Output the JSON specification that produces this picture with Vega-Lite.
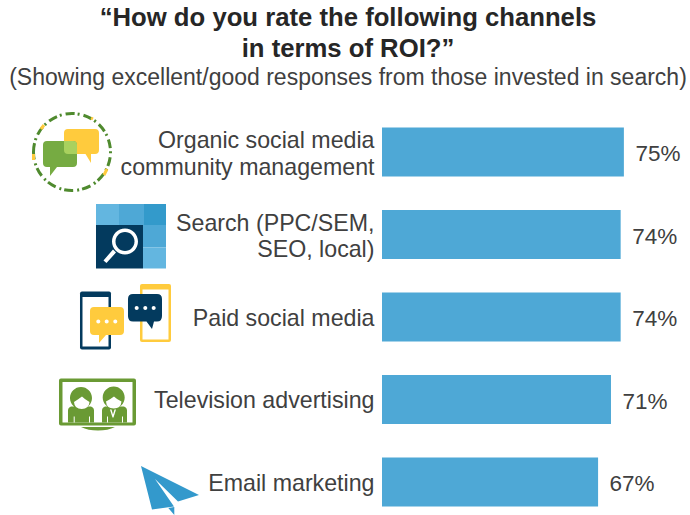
{
  "$schema": "https://vega.github.io/schema/vega-lite/v6.json",
  "width": 308,
  "height": 404.25,
  "padding": {"left": 382, "top": 110.75, "right": 0, "bottom": 0},
  "autosize": {"type": "none"},
  "background": "white",
  "view": {"stroke": null},
  "font": "Liberation Sans",
  "title": {
    "text": ["“How do you rate the following channels", "in terms of ROI?”"],
    "subtitle": "(Showing excellent/good responses from those invested in search)",
    "anchor": "middle",
    "frame": "group",
    "dx": -188,
    "offset": 17,
    "font": "Liberation Sans",
    "fontSize": 25.7,
    "fontWeight": "bold",
    "lineHeight": 31,
    "color": "#262626",
    "subtitleFont": "Liberation Sans",
    "subtitleFontSize": 23,
    "subtitleFontWeight": "normal",
    "subtitleColor": "#404040",
    "subtitlePadding": 4
  },
  "datasets": {
    "rates": [
      {"channel": "Organic social media community management", "share": 0.75},
      {"channel": "Search (PPC/SEM, SEO, local)", "share": 0.74},
      {"channel": "Paid social media", "share": 0.74},
      {"channel": "Television advertising", "share": 0.71},
      {"channel": "Email marketing", "share": 0.67}
    ],
    "iconParts": [
      {"channel": "Organic social media community management", "part": "bubbleYellow"},
      {"channel": "Organic social media community management", "part": "bubbleGreen"},
      {"channel": "Organic social media community management", "part": "bubbleOverlap"},
      {"channel": "Search (PPC/SEM, SEO, local)", "part": "tileA"},
      {"channel": "Search (PPC/SEM, SEO, local)", "part": "tileB"},
      {"channel": "Search (PPC/SEM, SEO, local)", "part": "tileC"},
      {"channel": "Search (PPC/SEM, SEO, local)", "part": "tileD"},
      {"channel": "Search (PPC/SEM, SEO, local)", "part": "tileE"},
      {"channel": "Search (PPC/SEM, SEO, local)", "part": "tileNavy"},
      {"channel": "Search (PPC/SEM, SEO, local)", "part": "lensWhite"},
      {"channel": "Search (PPC/SEM, SEO, local)", "part": "lensNavy"},
      {"channel": "Paid social media", "part": "phoneNavy"},
      {"channel": "Paid social media", "part": "phoneYellow"},
      {"channel": "Paid social media", "part": "phoneNavyScreen"},
      {"channel": "Paid social media", "part": "phoneYellowScreen"},
      {"channel": "Paid social media", "part": "chatYellow"},
      {"channel": "Paid social media", "part": "chatNavy"},
      {"channel": "Paid social media", "part": "chatDots"},
      {"channel": "Television advertising", "part": "tvFrame"},
      {"channel": "Television advertising", "part": "tvScreen"},
      {"channel": "Television advertising", "part": "tvPeople"},
      {"channel": "Television advertising", "part": "tvDetails"},
      {"channel": "Email marketing", "part": "plane"}
    ]
  },
  "resolve": {"scale": {"x": "shared", "y": "shared"}},
  "encoding": {
    "y": {
      "field": "channel",
      "type": "nominal",
      "scale": {
        "domain": [
          "Organic social media community management",
          "Search (PPC/SEM, SEO, local)",
          "Paid social media",
          "Television advertising",
          "Email marketing"
        ],
        "range": [0, 412.5],
        "paddingInner": 0.406,
        "paddingOuter": 0.203
      },
      "axis": {
        "title": null,
        "domain": false,
        "ticks": false,
        "labelPadding": 8,
        "labelFont": "Liberation Sans",
        "labelFontSize": 23.2,
        "labelColor": "#404040",
        "labelLimit": 0,
        "labelLineHeight": 26.5,
        "labelOffset": {
          "condition": {
            "test": "indexof(datum.label + '', 'management') >= 0 || indexof(datum.label + '', 'local') >= 0",
            "value": -11
          },
          "value": 1.5
        },
        "labelExpr": "datum.label == 'Organic social media community management' ? ['Organic social media', 'community management'] : datum.label == 'Search (PPC/SEM, SEO, local)' ? ['Search (PPC/SEM,', 'SEO, local)'] : datum.label"
      }
    }
  },
  "layer": [
    {
      "data": {"name": "rates"},
      "mark": {"type": "bar", "color": "#4ea8d6"},
      "encoding": {
        "x": {
          "field": "share",
          "type": "quantitative",
          "scale": {"domain": [0, 0.955], "nice": false, "zero": true},
          "axis": null
        }
      }
    },
    {
      "data": {"name": "rates"},
      "mark": {"type": "text", "align": "left", "dx": 11.5, "dy": 2, "fontSize": 22.5, "font": "Liberation Sans", "color": "#404040"},
      "encoding": {
        "x": {"field": "share", "type": "quantitative"},
        "text": {"field": "share", "type": "quantitative", "format": ".0%"}
      }
    },
    {
      "data": {"name": "iconParts"},
      "mark": {"type": "point", "filled": true, "opacity": 1, "strokeWidth": 0, "size": 4},
      "encoding": {
        "x": {"datum": -0.8744, "type": "quantitative"},
        "fill": {
          "field": "part",
          "type": "nominal",
          "legend": null,
          "scale": {
            "domain": ["bubbleYellow", "bubbleGreen", "bubbleOverlap", "tileA", "tileB", "tileC", "tileD", "tileE", "tileNavy", "lensWhite", "lensNavy", "phoneNavy", "phoneYellow", "phoneNavyScreen", "phoneYellowScreen", "chatYellow", "chatNavy", "chatDots", "tvFrame", "tvScreen", "tvPeople", "tvDetails", "plane"],
            "range": ["#ffcb3d", "#76ab42", "#a9d15e", "#63b6e0", "#4ea8d6", "#339acb", "#4ea8d6", "#63b6e0", "#033a5e", "#ffffff", "#033a5e", "#033a5e", "#ffcb3d", "#ffffff", "#ffffff", "#ffcb3d", "#033a5e", "#ffffff", "#6a9a34", "#ffffff", "#6a9a34", "#ffffff", "#3399cc"]
          }
        },
        "shape": {
          "field": "part",
          "type": "nominal",
          "legend": null,
          "scale": {
            "domain": ["bubbleYellow", "bubbleGreen", "bubbleOverlap", "tileA", "tileB", "tileC", "tileD", "tileE", "tileNavy", "lensWhite", "lensNavy", "phoneNavy", "phoneYellow", "phoneNavyScreen", "phoneYellowScreen", "chatYellow", "chatNavy", "chatDots", "tvFrame", "tvScreen", "tvPeople", "tvDetails", "plane"],
            "range": [
              "M-32,-23 L-5,-23 Q-1,-23 -1,-19 L-1,-2 Q-1,2 -5,2 L-9,2 L-9,11 L-14.5,2 L-32,2 Q-36,2 -36,-2 L-36,-19 Q-36,-23 -32,-23 Z",
              "M-53,-11 L-27,-11 Q-23,-11 -23,-7 L-23,11 Q-23,15 -27,15 L-43,15 L-50,24 L-50,15 L-53,15 Q-57,15 -57,11 L-57,-7 Q-57,-11 -53,-11 Z",
              "M-36,-11 L-27,-11 Q-23,-11 -23,-7 L-23,2 L-32,2 Q-36,2 -36,-2 Z",
              "M-4,-30.5 L19,-30.5 L19,-9.5 L-4,-9.5 Z",
              "M19,-30.5 L44,-30.5 L44,-9.5 L19,-9.5 Z",
              "M44,-30.5 L66,-30.5 L66,-9.5 L44,-9.5 Z",
              "M43,-9.5 L66,-9.5 L66,13 L43,13 Z",
              "M43,13 L66,13 L66,34 L43,34 Z",
              "M-4,-9.5 L43,-9.5 L43,34 L-4,34 Z",
              "M12,7 A13,13 0 1,1 38,7 A13,13 0 1,1 12,7 Z M13,15 L16,18 L6.5,28.5 L3.5,26 Z",
              "M15.5,7 A9.5,9.5 0 1,1 34.5,7 A9.5,9.5 0 1,1 15.5,7 Z",
              "M-18,-25.5 L9,-25.5 Q11,-25.5 11,-23.5 L11,30.5 Q11,32.5 9,32.5 L-18,32.5 Q-20,32.5 -20,30.5 L-20,-23.5 Q-20,-25.5 -18,-25.5 Z",
              "M42,-33 L69,-33 Q71,-33 71,-31 L71,23 Q71,25 69,25 L42,25 Q40,25 40,23 L40,-31 Q40,-33 42,-33 Z",
              "M-17.5,-20 L8.5,-20 L8.5,29.5 L-17.5,29.5 Z",
              "M42.5,-27.5 L68.5,-27.5 L68.5,22.5 L42.5,22.5 Z",
              "M-6,-10 L20,-10 Q24,-10 24,-6 L24,14 Q24,18 20,18 L6,18 L-1,26 L-1,18 L-6,18 Q-10,18 -10,14 L-10,-6 Q-10,-10 -6,-10 Z",
              "M33,-23 L57,-23 Q62,-23 62,-18 L62,-1 Q62,4.5 57,4.5 L54,4.5 L52,12 L46.5,4.5 L33,4.5 Q28,4.5 28,-1 L28,-18 Q28,-23 33,-23 Z",
              "M-3.7,4.4 A2,2 0 1,1 0.3,4.4 A2,2 0 1,1 -3.7,4.4 Z M4.7,4.4 A2,2 0 1,1 8.7,4.4 A2,2 0 1,1 4.7,4.4 Z M13.3,4.4 A2,2 0 1,1 17.3,4.4 A2,2 0 1,1 13.3,4.4 Z M34.7,-9 A2,2 0 1,1 38.7,-9 A2,2 0 1,1 34.7,-9 Z M43.3,-9 A2,2 0 1,1 47.3,-9 A2,2 0 1,1 43.3,-9 Z M51.7,-9 A2,2 0 1,1 55.7,-9 A2,2 0 1,1 51.7,-9 Z",
              "M-39,-21 L34,-21 Q36,-21 36,-19 L36,24 Q36,26 34,26 L-39,26 Q-41,26 -41,24 L-41,-19 Q-41,-21 -39,-21 Z M-19,27.5 L15,27.5 Q8,31 -2,31 Q-12,31 -19,27.5 Z",
              "M-37.5,-17.5 L32.5,-17.5 L32.5,23 L-37.5,23 Z",
              "M-30,-1.5 A11,11 0 1,1 -8,-1.5 A11,11 0 1,1 -30,-1.5 Z M-29,7 L-9,7 Q-6,8 -6,11 L-6,23 L-32,23 L-32,11 Q-32,8 -29,7 Z M2.7,-2 A11,11 0 1,1 24.7,-2 A11,11 0 1,1 2.7,-2 Z M5,7 L24,7 Q27,8 27,11 L27,23 L2,23 L2,11 Q2,8 5,7 Z",
              "M-26,2.5 Q-22,0 -18,-3 Q-15,0 -10.5,2.5 Q-11,9.5 -18.3,9.5 Q-25.5,9.5 -26,2.5 Z M6,2 Q10,0 14,-3 Q17,0 21.5,2 Q21,9 13.7,9 Q6.5,9 6,2 Z M-26.3,17 L-25.3,17 L-25.3,23 L-26.3,23 Z M-11,17 L-10,17 L-10,23 L-11,23 Z M7,17 L8,17 L8,23 L7,23 Z M22,17 L23,17 L23,23 L22,23 Z M10,10 L11.5,10 L13,15 L14.5,10 L16,10 L13.5,18 L12.5,18 Z",
              "M41,-16 L99,13 L78,19.5 L55,-3 L74,24.5 L52,27.5 Z M68.3,26 L74.3,25 L74.3,33 Z"
            ]
          }
        }
      }
    },
    {
      "data": {"values": [{"channel": "Organic social media community management", "ring": "dashes"}]},
      "mark": {
        "type": "point",
        "filled": false,
        "opacity": 1,
        "size": 4,
        "stroke": "#4f8a2e",
        "strokeWidth": 3,
        "strokeDash": [9, 3, 2, 4],
        "shape": "M-66.5,0 A38.5,38.5 0 1,1 10.5,0 A38.5,38.5 0 1,1 -66.5,0 Z"
      },
      "encoding": {"x": {"datum": -0.8744, "type": "quantitative"}}
    },
    {
      "data": {"values": [{"channel": "Organic social media community management", "ring": "accents"}]},
      "mark": {
        "type": "point",
        "filled": false,
        "opacity": 1,
        "size": 4,
        "stroke": "#ffcb3d",
        "strokeWidth": 3,
        "shape": "M-59,-23 L-56,-27 M-66.5,2 L-66.5,8 M7,17 L4,23 M-9,-34 L-7,-33"
      },
      "encoding": {"x": {"datum": -0.8744, "type": "quantitative"}}
    }
  ]
}
